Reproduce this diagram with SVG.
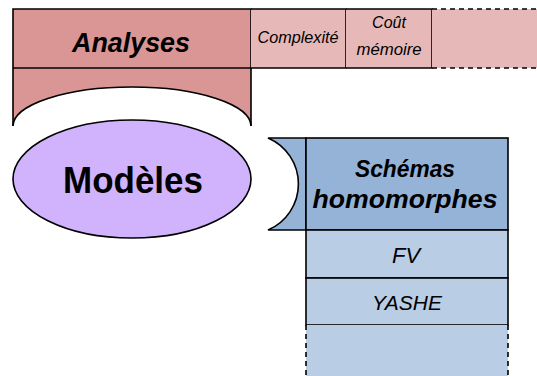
<svg xmlns="http://www.w3.org/2000/svg" width="537" height="376" viewBox="0 0 537 376">
<style>
.ln{stroke:#000;stroke-width:1.6;fill:none}
.dash{stroke:#000;stroke-width:1.6;fill:none;stroke-dasharray:5,4}
.t{font-family:"Liberation Sans",Arial,sans-serif;fill:#000;text-anchor:middle}
.bi{font-weight:bold;font-style:italic}
.i{font-style:italic}
</style>
<rect width="537" height="376" fill="#fff"/>
<g id="analyses">
<path d="M13,9 H251 V126 A119,39 0 0 0 13,126 Z" fill="#D99694"/>
<path class="ln" d="M13,126 V9 H251 V126"/>
<path class="ln" d="M13,126 A119,39 0 0 1 251,126"/>
<line class="ln" x1="13" y1="68" x2="251" y2="68"/>
<text class="t bi" x="131" y="52" font-size="27" textLength="118" lengthAdjust="spacingAndGlyphs">Analyses</text>
</g>
<g id="complexite">
<rect x="251" y="9" width="95" height="59" fill="#E6B9B8"/>
<path class="ln" d="M251,9 H346 V68 H251"/>
<text class="t i" x="298" y="43" font-size="16" textLength="81" lengthAdjust="spacingAndGlyphs">Complexité</text>
</g>
<g id="cout-memoire">
<rect x="346" y="9" width="86" height="59" fill="#E6B9B8"/>
<path class="ln" d="M346,9 H432 V68 H346"/>
<text class="t i" x="389" y="28" font-size="16">Coût</text>
<text class="t i" x="389" y="55" font-size="16" textLength="65" lengthAdjust="spacingAndGlyphs">mémoire</text>
</g>
<g id="analyses-more">
<rect x="432" y="9" width="105" height="59" fill="#E6B9B8"/>
<path class="dash" d="M432,9 H537 M432,68 H537"/>
</g>
<g id="modeles">
<ellipse cx="132" cy="179" rx="119" ry="59" fill="#D0B3FC" stroke="#000" stroke-width="1.6"/>
<text class="t" x="133" y="193" font-size="36" font-weight="bold" textLength="140" lengthAdjust="spacingAndGlyphs">Modèles</text>
</g>
<g id="schemas">
<path d="M268,138 H306 V230 H268 A50,50 0 0 0 268,138 Z" class="ln" style="fill:#95B3D7"/>
<rect x="306" y="138" width="202" height="92" class="ln" style="fill:#95B3D7"/>
<text class="t bi" x="405" y="177" font-size="24" textLength="100" lengthAdjust="spacingAndGlyphs">Schémas</text>
<text class="t bi" x="405" y="208" font-size="25" textLength="185" lengthAdjust="spacingAndGlyphs">homomorphes</text>
</g>
<g id="fv">
<rect x="306" y="230" width="202" height="48" class="ln" style="fill:#B9CDE5"/>
<text class="t i" x="406" y="263" font-size="22">FV</text>
</g>
<g id="yashe">
<rect x="306" y="278" width="202" height="47" class="ln" style="fill:#B9CDE5"/>
<text class="t i" x="407" y="310" font-size="21" textLength="70" lengthAdjust="spacingAndGlyphs">YASHE</text>
</g>
<g id="schemas-more">
<rect x="306" y="325" width="202" height="51" fill="#B9CDE5"/>
<path class="dash" d="M306,325 V376 M508,325 V376"/>
</g>
<g id="connectors"></g>
</svg>
